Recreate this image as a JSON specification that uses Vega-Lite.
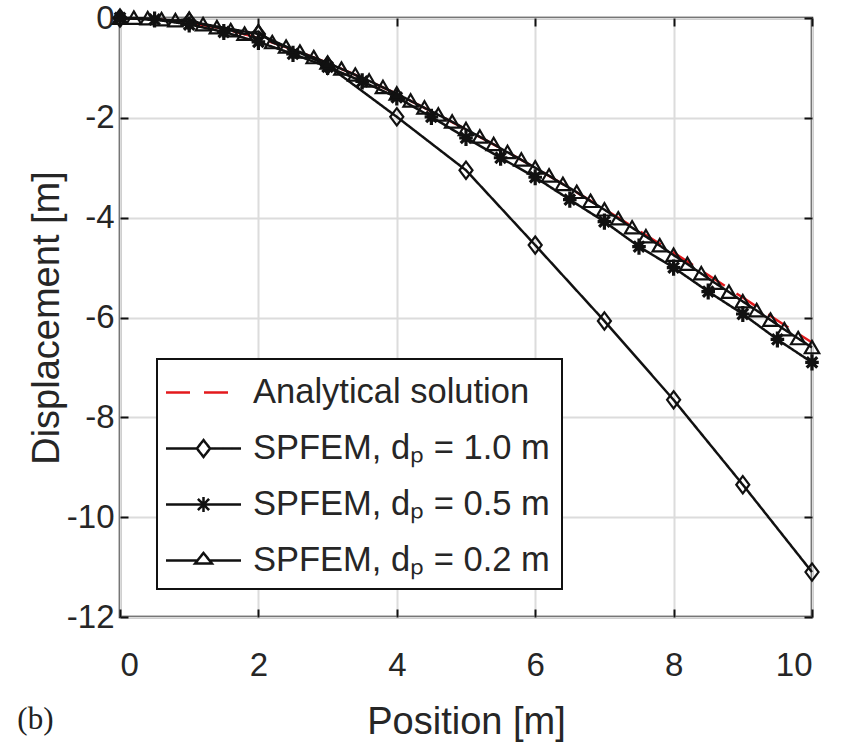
{
  "$schema": "https://vega.github.io/schema/vega-lite/v6.json",
  "width": 692,
  "height": 599,
  "autosize": {"type": "none"},
  "padding": {"left": 120, "top": 18, "right": 29, "bottom": 128},
  "background": "white",
  "title": {"text": "(b)", "orient": "bottom", "anchor": "start", "frame": "bounds", "font": "Liberation Serif", "fontSize": 31, "fontWeight": "normal", "color": "#222222", "offset": -36, "dx": -11},
  "config": {
    "font": "Liberation Sans",
    "view": {"stroke": "#111111", "strokeWidth": 2.5},
    "axis": {
      "grid": true, "gridColor": "#dcdcdc", "gridWidth": 2,
      "domain": false,
      "tickColor": "#111111", "tickWidth": 2, "tickSize": -8,
      "labelFont": "Liberation Sans", "labelFontSize": 33, "labelColor": "#262626",
      "labelExpr": "'' + datum.value",
      "titleFont": "Liberation Sans", "titleFontSize": 38, "titleFontWeight": "normal", "titleColor": "#262626"
    },
    "legend": {
      "strokeColor": "#111111", "strokeWidth": 2, "fillColor": "white", "padding": 12, "cornerRadius": 0,
      "symbolSize": 1600, "symbolStrokeWidth": 2.5, "symbolOffset": 13, "labelOffset": 28,
      "labelFont": "Liberation Sans", "labelFontSize": 34.5, "labelColor": "#262626", "labelLimit": 800,
      "rowPadding": 18
    }
  },
  "data": {"values": [
    {"series": "Analytical solution", "x": 0, "y": 0},
    {"series": "Analytical solution", "x": 0.5, "y": -0.02},
    {"series": "Analytical solution", "x": 1, "y": -0.09},
    {"series": "Analytical solution", "x": 1.5, "y": -0.22},
    {"series": "Analytical solution", "x": 2, "y": -0.4},
    {"series": "Analytical solution", "x": 2.5, "y": -0.63},
    {"series": "Analytical solution", "x": 3, "y": -0.9},
    {"series": "Analytical solution", "x": 3.5, "y": -1.2},
    {"series": "Analytical solution", "x": 4, "y": -1.52},
    {"series": "Analytical solution", "x": 4.5, "y": -1.87},
    {"series": "Analytical solution", "x": 5, "y": -2.23},
    {"series": "Analytical solution", "x": 5.5, "y": -2.61},
    {"series": "Analytical solution", "x": 6, "y": -3.0},
    {"series": "Analytical solution", "x": 6.5, "y": -3.41},
    {"series": "Analytical solution", "x": 7, "y": -3.83},
    {"series": "Analytical solution", "x": 7.5, "y": -4.26},
    {"series": "Analytical solution", "x": 8, "y": -4.7},
    {"series": "Analytical solution", "x": 8.5, "y": -5.15},
    {"series": "Analytical solution", "x": 9, "y": -5.6},
    {"series": "Analytical solution", "x": 9.5, "y": -6.06},
    {"series": "Analytical solution", "x": 10, "y": -6.5},

    {"series": "SPFEM, dₚ = 1.0 m", "x": 0, "y": 0},
    {"series": "SPFEM, dₚ = 1.0 m", "x": 1, "y": -0.07},
    {"series": "SPFEM, dₚ = 1.0 m", "x": 2, "y": -0.32},
    {"series": "SPFEM, dₚ = 1.0 m", "x": 3, "y": -0.95},
    {"series": "SPFEM, dₚ = 1.0 m", "x": 4, "y": -1.98},
    {"series": "SPFEM, dₚ = 1.0 m", "x": 5, "y": -3.05},
    {"series": "SPFEM, dₚ = 1.0 m", "x": 6, "y": -4.55},
    {"series": "SPFEM, dₚ = 1.0 m", "x": 7, "y": -6.07},
    {"series": "SPFEM, dₚ = 1.0 m", "x": 8, "y": -7.65},
    {"series": "SPFEM, dₚ = 1.0 m", "x": 9, "y": -9.35},
    {"series": "SPFEM, dₚ = 1.0 m", "x": 10, "y": -11.1},

    {"series": "SPFEM, dₚ = 0.5 m", "x": 0, "y": 0},
    {"series": "SPFEM, dₚ = 0.5 m", "x": 0.5, "y": -0.03},
    {"series": "SPFEM, dₚ = 0.5 m", "x": 1, "y": -0.13},
    {"series": "SPFEM, dₚ = 0.5 m", "x": 1.5, "y": -0.28},
    {"series": "SPFEM, dₚ = 0.5 m", "x": 2, "y": -0.48},
    {"series": "SPFEM, dₚ = 0.5 m", "x": 2.5, "y": -0.72},
    {"series": "SPFEM, dₚ = 0.5 m", "x": 3, "y": -0.98},
    {"series": "SPFEM, dₚ = 0.5 m", "x": 3.5, "y": -1.27},
    {"series": "SPFEM, dₚ = 0.5 m", "x": 4, "y": -1.59},
    {"series": "SPFEM, dₚ = 0.5 m", "x": 4.5, "y": -1.98},
    {"series": "SPFEM, dₚ = 0.5 m", "x": 5, "y": -2.4},
    {"series": "SPFEM, dₚ = 0.5 m", "x": 5.5, "y": -2.8},
    {"series": "SPFEM, dₚ = 0.5 m", "x": 6, "y": -3.19},
    {"series": "SPFEM, dₚ = 0.5 m", "x": 6.5, "y": -3.64},
    {"series": "SPFEM, dₚ = 0.5 m", "x": 7, "y": -4.08},
    {"series": "SPFEM, dₚ = 0.5 m", "x": 7.5, "y": -4.58},
    {"series": "SPFEM, dₚ = 0.5 m", "x": 8, "y": -5.0},
    {"series": "SPFEM, dₚ = 0.5 m", "x": 8.5, "y": -5.48},
    {"series": "SPFEM, dₚ = 0.5 m", "x": 9, "y": -5.93},
    {"series": "SPFEM, dₚ = 0.5 m", "x": 9.5, "y": -6.44},
    {"series": "SPFEM, dₚ = 0.5 m", "x": 10, "y": -6.9},

    {"series": "SPFEM, dₚ = 0.2 m", "x": 0, "y": 0},
    {"series": "SPFEM, dₚ = 0.2 m", "x": 0.2, "y": 0},
    {"series": "SPFEM, dₚ = 0.2 m", "x": 0.4, "y": -0.01},
    {"series": "SPFEM, dₚ = 0.2 m", "x": 0.6, "y": -0.03},
    {"series": "SPFEM, dₚ = 0.2 m", "x": 0.8, "y": -0.05},
    {"series": "SPFEM, dₚ = 0.2 m", "x": 1.0, "y": -0.02},
    {"series": "SPFEM, dₚ = 0.2 m", "x": 1.2, "y": -0.13},
    {"series": "SPFEM, dₚ = 0.2 m", "x": 1.4, "y": -0.19},
    {"series": "SPFEM, dₚ = 0.2 m", "x": 1.6, "y": -0.25},
    {"series": "SPFEM, dₚ = 0.2 m", "x": 1.8, "y": -0.32},
    {"series": "SPFEM, dₚ = 0.2 m", "x": 2.0, "y": -0.27},
    {"series": "SPFEM, dₚ = 0.2 m", "x": 2.2, "y": -0.49},
    {"series": "SPFEM, dₚ = 0.2 m", "x": 2.4, "y": -0.58},
    {"series": "SPFEM, dₚ = 0.2 m", "x": 2.6, "y": -0.68},
    {"series": "SPFEM, dₚ = 0.2 m", "x": 2.8, "y": -0.79},
    {"series": "SPFEM, dₚ = 0.2 m", "x": 3.0, "y": -0.9},
    {"series": "SPFEM, dₚ = 0.2 m", "x": 3.2, "y": -1.02},
    {"series": "SPFEM, dₚ = 0.2 m", "x": 3.4, "y": -1.14},
    {"series": "SPFEM, dₚ = 0.2 m", "x": 3.6, "y": -1.26},
    {"series": "SPFEM, dₚ = 0.2 m", "x": 3.8, "y": -1.39},
    {"series": "SPFEM, dₚ = 0.2 m", "x": 4.0, "y": -1.52},
    {"series": "SPFEM, dₚ = 0.2 m", "x": 4.2, "y": -1.66},
    {"series": "SPFEM, dₚ = 0.2 m", "x": 4.4, "y": -1.8},
    {"series": "SPFEM, dₚ = 0.2 m", "x": 4.6, "y": -1.94},
    {"series": "SPFEM, dₚ = 0.2 m", "x": 4.8, "y": -2.08},
    {"series": "SPFEM, dₚ = 0.2 m", "x": 5.0, "y": -2.23},
    {"series": "SPFEM, dₚ = 0.2 m", "x": 5.2, "y": -2.38},
    {"series": "SPFEM, dₚ = 0.2 m", "x": 5.4, "y": -2.53},
    {"series": "SPFEM, dₚ = 0.2 m", "x": 5.6, "y": -2.69},
    {"series": "SPFEM, dₚ = 0.2 m", "x": 5.8, "y": -2.84},
    {"series": "SPFEM, dₚ = 0.2 m", "x": 6.0, "y": -3.0},
    {"series": "SPFEM, dₚ = 0.2 m", "x": 6.2, "y": -3.16},
    {"series": "SPFEM, dₚ = 0.2 m", "x": 6.4, "y": -3.33},
    {"series": "SPFEM, dₚ = 0.2 m", "x": 6.6, "y": -3.49},
    {"series": "SPFEM, dₚ = 0.2 m", "x": 6.8, "y": -3.67},
    {"series": "SPFEM, dₚ = 0.2 m", "x": 7.0, "y": -3.84},
    {"series": "SPFEM, dₚ = 0.2 m", "x": 7.2, "y": -4.02},
    {"series": "SPFEM, dₚ = 0.2 m", "x": 7.4, "y": -4.2},
    {"series": "SPFEM, dₚ = 0.2 m", "x": 7.6, "y": -4.38},
    {"series": "SPFEM, dₚ = 0.2 m", "x": 7.8, "y": -4.56},
    {"series": "SPFEM, dₚ = 0.2 m", "x": 8.0, "y": -4.75},
    {"series": "SPFEM, dₚ = 0.2 m", "x": 8.2, "y": -4.93},
    {"series": "SPFEM, dₚ = 0.2 m", "x": 8.4, "y": -5.12},
    {"series": "SPFEM, dₚ = 0.2 m", "x": 8.6, "y": -5.31},
    {"series": "SPFEM, dₚ = 0.2 m", "x": 8.8, "y": -5.49},
    {"series": "SPFEM, dₚ = 0.2 m", "x": 9.0, "y": -5.68},
    {"series": "SPFEM, dₚ = 0.2 m", "x": 9.2, "y": -5.86},
    {"series": "SPFEM, dₚ = 0.2 m", "x": 9.4, "y": -6.05},
    {"series": "SPFEM, dₚ = 0.2 m", "x": 9.6, "y": -6.24},
    {"series": "SPFEM, dₚ = 0.2 m", "x": 9.8, "y": -6.42},
    {"series": "SPFEM, dₚ = 0.2 m", "x": 10.0, "y": -6.6}
  ]},
  "resolve": {"axis": {"x": "independent", "y": "independent"}},
  "layer": [
    {
      "mark": {"type": "line", "strokeWidth": 2.5},
      "encoding": {
        "x": {"field": "x", "type": "quantitative", "scale": {"domain": [0, 10], "nice": false, "zero": false},
              "axis": {"orient": "bottom", "values": [0, 2, 4, 6, 8, 10], "title": "Position [m]", "labelPadding": 40, "titlePadding": 21}},
        "y": {"field": "y", "type": "quantitative", "scale": {"domain": [-12, 0], "nice": false, "zero": false},
              "axis": {"orient": "left", "values": [-12, -10, -8, -6, -4, -2, 0], "title": "Displacement [m]", "labelPadding": 14, "titlePadding": 0}},
        "color": {"field": "series", "type": "nominal",
                  "scale": {"domain": ["Analytical solution", "SPFEM, dₚ = 1.0 m", "SPFEM, dₚ = 0.5 m", "SPFEM, dₚ = 0.2 m"],
                            "range": ["#e3191c", "#111111", "#111111", "#111111"]},
                  "legend": {"title": null, "orient": "none", "legendX": 37, "legendY": 341}},
        "strokeDash": {"field": "series", "type": "nominal",
                  "scale": {"domain": ["Analytical solution", "SPFEM, dₚ = 1.0 m", "SPFEM, dₚ = 0.5 m", "SPFEM, dₚ = 0.2 m"],
                            "range": [[24, 14], [1, 0], [1, 0], [1, 0]]},
                  "legend": {"title": null, "orient": "none", "legendX": 37, "legendY": 341}}
      }
    },
    {
      "transform": [{"filter": "datum.series === 'SPFEM, dₚ = 1.0 m'"}],
      "mark": {"type": "point", "filled": false, "opacity": 1, "color": "#111111", "strokeWidth": 2.2, "size": 225,
               "shape": "M0,-1.15L0.87,0L0,1.15L-0.87,0Z"},
      "encoding": {
        "x": {"field": "x", "type": "quantitative", "axis": null},
        "y": {"field": "y", "type": "quantitative", "axis": null}
      }
    },
    {
      "transform": [{"filter": "datum.series === 'SPFEM, dₚ = 0.5 m'"}],
      "mark": {"type": "point", "filled": false, "opacity": 1, "color": "#111111", "strokeWidth": 3.2, "size": 289,
               "shape": "M-0.8,0L0.8,0M0,-0.95L0,0.95M-0.62,-0.62L0.62,0.62M-0.62,0.62L0.62,-0.62"},
      "encoding": {
        "x": {"field": "x", "type": "quantitative", "axis": null},
        "y": {"field": "y", "type": "quantitative", "axis": null}
      }
    },
    {
      "transform": [{"filter": "datum.series === 'SPFEM, dₚ = 0.2 m'"}],
      "mark": {"type": "point", "filled": false, "opacity": 1, "color": "#111111", "strokeWidth": 2.2, "size": 240,
               "shape": "M0,-0.85L0.93,0.75L-0.93,0.75Z"},
      "encoding": {
        "x": {"field": "x", "type": "quantitative", "axis": null},
        "y": {"field": "y", "type": "quantitative", "axis": null}
      }
    },
    {
      "transform": [{"filter": "datum.x > 100"}],
      "mark": {"type": "point", "filled": false, "opacity": 1, "strokeWidth": 2.5, "size": 1600},
      "encoding": {
        "x": {"field": "x", "type": "quantitative",
              "axis": {"orient": "top", "values": [0, 2, 4, 6, 8, 10], "labels": false, "grid": false, "title": null}},
        "y": {"field": "y", "type": "quantitative",
              "axis": {"orient": "right", "values": [-12, -10, -8, -6, -4, -2, 0], "labels": false, "grid": false, "title": null}},
        "color": {"field": "series", "type": "nominal", "legend": {"title": null, "orient": "none", "legendX": 37, "legendY": 341}},
        "strokeDash": {"field": "series", "type": "nominal", "legend": {"title": null, "orient": "none", "legendX": 37, "legendY": 341}},
        "shape": {"field": "series", "type": "nominal",
                  "scale": {"domain": ["Analytical solution", "SPFEM, dₚ = 1.0 m", "SPFEM, dₚ = 0.5 m", "SPFEM, dₚ = 0.2 m"],
                            "range": ["M-1.875,0L1.875,0",
                                      "M-1.875,0L-0.33,0M0.33,0L1.875,0M0,-0.42L0.33,0L0,0.42L-0.33,0Z",
                                      "M-1.875,0L1.875,0M0,-0.38L0,0.38M-0.28,-0.28L0.28,0.28M-0.28,0.28L0.28,-0.28",
                                      "M-1.875,0L-0.3,0M0.3,0L1.875,0M0,-0.38L0.42,0.15L-0.42,0.15Z"]},
                  "legend": {"title": null, "orient": "none", "legendX": 37, "legendY": 341}}
      }
    }
  ]
}
